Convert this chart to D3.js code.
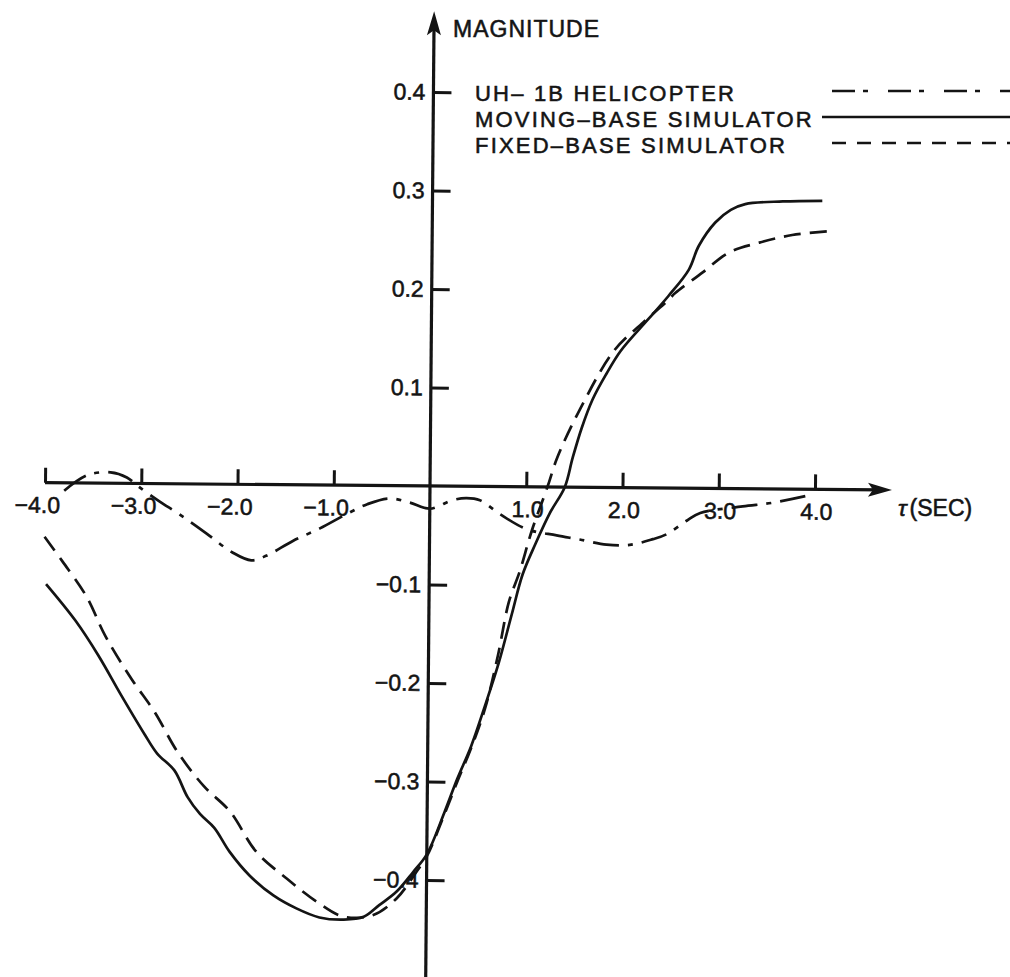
<!DOCTYPE html>
<html><head><meta charset="utf-8">
<script src="https://cdn.jsdelivr.net/npm/d3@7"></script>
<style>
body{margin:0;background:#fff}
svg{display:block}
text{font-family:"Liberation Sans",Arial,sans-serif;fill:#141414;stroke:#141414;stroke-width:0.55px}
</style>
</head><body>
<svg id="chart" width="1010" height="977"></svg>
<script>
// ---- data ----
const xTicks = [-4, -3, -2, -1, 1, 2, 3, 4];
const xTickLabels = ["\u22124.0", "\u22123.0", "\u22122.0", "\u22121.0", "1.0", "2.0", "3.0", "4.0"];
const yTicks = [0.4, 0.3, 0.2, 0.1, -0.1, -0.2, -0.3, -0.4];
const yTickLabels = ["0.4", "0.3", "0.2", "0.1", "\u22120.1", "\u22120.2", "\u22120.3", "\u22120.4"];
const seriesNames = ["UH\u2013 1B HELICOPTER", "MOVING\u2013BASE SIMULATOR", "FIXED\u2013BASE SIMULATOR"];
const yAxisTitle = "MAGNITUDE";
const xAxisUnit = "(SEC)";

const heliTime = [-3.80,-3.56,-3.32,-3.15,-3.03,-2.81,-2.60,-2.32,-2.05,-1.85,-1.69,-1.42,-1.14,-0.86,-0.65,-0.42,-0.21,0.00,0.24,0.38,0.52,0.73,1.01,1.32,1.56,1.84,2.08,2.32,2.46,2.67,2.81,3.25,3.56,3.90];
const heliMag  = [-0.008,0.008,0.011,0.006,-0.003,-0.018,-0.031,-0.050,-0.069,-0.077,-0.072,-0.057,-0.044,-0.029,-0.019,-0.013,-0.017,-0.023,-0.014,-0.012,-0.014,-0.028,-0.043,-0.049,-0.053,-0.058,-0.058,-0.052,-0.047,-0.033,-0.025,-0.018,-0.014,-0.007];

const movingTime = [-3.98,-3.67,-3.43,-3.19,-2.94,-2.81,-2.63,-2.49,-2.36,-2.21,-2.05,-1.84,-1.59,-1.35,-1.11,-0.86,-0.65,-0.49,-0.31,-0.14,0.00,0.18,0.31,0.45,0.59,0.73,0.86,0.97,1.10,1.25,1.40,1.48,1.57,1.68,1.82,1.97,2.25,2.46,2.67,2.77,2.94,3.10,3.25,3.64,4.05];
const movingMag  = [-0.103,-0.140,-0.175,-0.215,-0.255,-0.274,-0.291,-0.318,-0.335,-0.349,-0.373,-0.397,-0.417,-0.430,-0.439,-0.441,-0.438,-0.426,-0.412,-0.392,-0.374,-0.331,-0.297,-0.264,-0.223,-0.179,-0.130,-0.089,-0.058,-0.026,0.000,0.030,0.060,0.089,0.115,0.139,0.171,0.195,0.222,0.246,0.270,0.283,0.289,0.292,0.293];

const fixedTime = [-4.00,-3.81,-3.56,-3.36,-3.08,-2.84,-2.60,-2.32,-2.05,-1.77,-1.45,-1.14,-0.86,-0.55,-0.31,-0.10,0.00,0.18,0.31,0.45,0.59,0.72,0.83,0.94,1.06,1.22,1.32,1.56,1.90,2.20,2.46,2.53,2.81,3.09,3.40,3.74,4.10];
const fixedMag  = [-0.055,-0.080,-0.115,-0.155,-0.199,-0.232,-0.272,-0.307,-0.332,-0.373,-0.400,-0.423,-0.438,-0.436,-0.419,-0.391,-0.376,-0.333,-0.300,-0.266,-0.226,-0.172,-0.117,-0.086,-0.045,0.000,0.030,0.081,0.139,0.168,0.191,0.198,0.219,0.240,0.250,0.258,0.262];

// ---- layout ----
const svg = d3.select("#chart");
const ox = 430, oy = 486;
const x = d3.scaleLinear().domain([-4, 4]).range([45, 815]);
const y = d3.scaleLinear().domain([0, 0.4]).range([oy, 92]);
const ink = "#141414";

svg.append("rect").attr("width", 1010).attr("height", 977).attr("fill", "#fff");

const g = svg.append("g").attr("transform", `rotate(0.5, ${ox}, ${oy})`);

// x axis (ticks point up, labels below)
const xAxis = d3.axisBottom(x).tickValues(xTicks)
  .tickFormat((d, i) => xTickLabels[i]).tickSizeInner(-15).tickSizeOuter(0).tickPadding(14);
const gx = g.append("g").attr("transform", `translate(0,${y(0)})`).call(xAxis);
gx.select(".domain").remove();
gx.selectAll(".tick line").attr("stroke", ink).attr("stroke-width", 3);
gx.selectAll(".tick text").attr("font-size", 23).attr("font-family", null)
  .attr("fill", ink).attr("dx", d => d < 0 ? -8 : 1);

// y axis (ticks point right, labels left)
const yAxis = d3.axisLeft(y).tickValues(yTicks)
  .tickFormat((d, i) => yTickLabels[i]).tickSizeInner(-18).tickSizeOuter(0).tickPadding(8);
const gy = g.append("g").attr("transform", `translate(${x(0)},0)`).call(yAxis);
gy.select(".domain").remove();
gy.selectAll(".tick line").attr("stroke", ink).attr("stroke-width", 3);
gy.selectAll(".tick text").attr("font-size", 23).attr("font-family", null).attr("fill", ink);

// axis lines with arrows
const xEnd = x(4.8), yTop = y(0.482);
g.append("line").attr("x1", x(-4)).attr("x2", xEnd - 10).attr("y1", y(0)).attr("y2", y(0))
  .attr("stroke", ink).attr("stroke-width", 3.2);
g.append("path").attr("d", `M${xEnd},${y(0)} L${xEnd - 24},${y(0) - 7} L${xEnd - 19},${y(0)} L${xEnd - 24},${y(0) + 7} Z`).attr("fill", ink);
g.append("line").attr("x1", x(0)).attr("x2", x(0)).attr("y1", y(-0.51)).attr("y2", yTop + 10)
  .attr("stroke", ink).attr("stroke-width", 3.2);
g.append("path").attr("d", `M${x(0)},${yTop} L${x(0) - 7},${yTop + 24} L${x(0)},${yTop + 19} L${x(0) + 7},${yTop + 24} Z`).attr("fill", ink);

// curves
const line = d3.line().x(d => x(d[0])).y(d => y(d[1])).curve(d3.curveCatmullRom.alpha(0.5));
const series = [
  {t: heliTime, v: heliMag, dash: "26,9,5,9"},
  {t: movingTime, v: movingMag, dash: null},
  {t: fixedTime, v: fixedMag, dash: "17,9"}
];
series.forEach(s => {
  g.append("path").datum(s.t.map((t, i) => [t, s.v[i]]))
    .attr("d", line).attr("fill", "none").attr("stroke", ink)
    .attr("stroke-width", 2.7).attr("stroke-dasharray", s.dash)
    .attr("stroke-linecap", "butt");
});

// y-axis title
svg.append("text").attr("x", 453).attr("y", 29).attr("dominant-baseline", "central")
  .attr("font-size", 23).attr("letter-spacing", 1).text(yAxisTitle);

// x-axis unit label
const xl = svg.append("text").attr("x", 898).attr("y", 508).attr("dominant-baseline", "central").attr("font-size", 23);
xl.append("tspan").attr("font-style", "italic").text("\u03c4");
xl.append("tspan").attr("dx", 3).text(xAxisUnit);

// legend
const legY = [93, 119, 145];
const legLineX = [832, 822, 832];
const legDash = ["23,8,5,20", null, "14,11"];
seriesNames.forEach((name, i) => {
  svg.append("text").attr("x", 475).attr("y", legY[i]).attr("dominant-baseline", "central")
    .attr("font-size", 22).attr("letter-spacing", 2.2).text(name);
  svg.append("line").attr("x1", legLineX[i]).attr("x2", 1012)
    .attr("y1", legY[i] - 2).attr("y2", legY[i] - 2)
    .attr("stroke", ink).attr("stroke-width", 2.4).attr("stroke-dasharray", legDash[i]);
});
</script>
</body></html>
